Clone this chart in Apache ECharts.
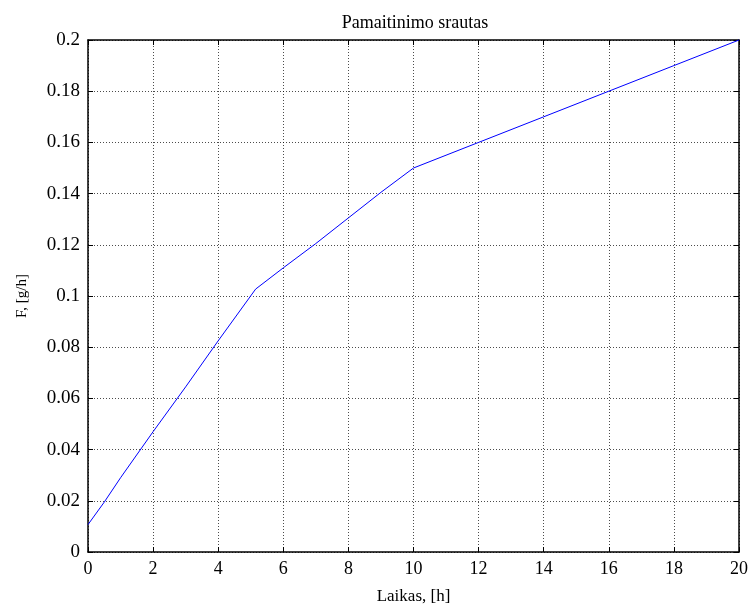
<!DOCTYPE html>
<html>
<head>
<meta charset="utf-8">
<script src="https://cdn.jsdelivr.net/npm/echarts@6/dist/echarts.min.js"></script>
<style>
  html, body { margin: 0; padding: 0; background: #fff; }
  #chart { width: 752px; height: 610px; }
</style>
</head>
<body>
<div id="chart"></div>
<script>
// Feed flow over time
const timeH = [0, 0.5, 1, 2, 3, 4, 5.15, 6, 7, 8, 9, 10, 12, 14, 16, 18, 20];
const feedFlow = [0.0107, 0.0195, 0.029, 0.047, 0.0645, 0.0825, 0.1027, 0.111, 0.1205, 0.1305, 0.1405, 0.150, 0.160, 0.170, 0.180, 0.190, 0.200];

const titleText = 'Pamaitinimo srautas';
const xName = 'Laikas, [h]';
const yName = 'F, [g/h]';

const serif = '"Liberation Serif", "DejaVu Serif", serif';

const chart = echarts.init(document.getElementById('chart'), null, { renderer: 'canvas' });

const gridLine = { show: true, lineStyle: { color: '#000', type: [1, 2], width: 1, opacity: 0.7 } };
const boxLine = { show: true, onZero: false, lineStyle: { color: '#000', width: 1.5 } };
const tickIn = { show: true, inside: true, length: 5, lineStyle: { color: '#000', width: 1 } };

chart.setOption({
  animation: false,
  backgroundColor: '#fff',
  title: {
    text: titleText,
    left: 410, top: 9, textAlign: 'center',
    textStyle: { fontFamily: serif, fontSize: 18, fontWeight: 'normal', color: '#000' }
  },
  grid: { left: 88, right: 13, top: 40, bottom: 57 },
  xAxis: [
    {
      type: 'value', min: 0, max: 20, interval: 2, position: 'bottom',
      name: xName, nameLocation: 'middle', nameGap: 36,
      nameTextStyle: { fontFamily: serif, fontSize: 17, color: '#000' },
      axisLine: boxLine, axisTick: tickIn, splitLine: gridLine,
      axisLabel: { margin: 8, fontFamily: serif, fontSize: 18, color: '#000' }
    },
    {
      type: 'value', min: 0, max: 20, interval: 2, position: 'top',
      axisLine: boxLine, axisTick: tickIn, splitLine: { show: false },
      axisLabel: { show: false }
    }
  ],
  yAxis: [
    {
      type: 'value', min: 0, max: 0.2, interval: 0.02, position: 'left',
      name: yName, nameLocation: 'middle', nameGap: 58, nameRotate: 90,
      nameTextStyle: { fontFamily: serif, fontSize: 15, color: '#000' },
      axisLine: boxLine, axisTick: tickIn, splitLine: gridLine,
      axisLabel: { margin: 8, fontFamily: serif, fontSize: 19, color: '#000',
        formatter: v => String(+v.toFixed(2)) }
    },
    {
      type: 'value', min: 0, max: 0.2, interval: 0.02, position: 'right',
      axisLine: boxLine, axisTick: tickIn, splitLine: { show: false },
      axisLabel: { show: false }
    }
  ],
  series: [
    {
      type: 'line',
      data: timeH.map((t, i) => [t, feedFlow[i]]),
      showSymbol: false,
      lineStyle: { color: '#0000ff', width: 1 },
      clip: false
    }
  ]
});
</script>
</body>
</html>
